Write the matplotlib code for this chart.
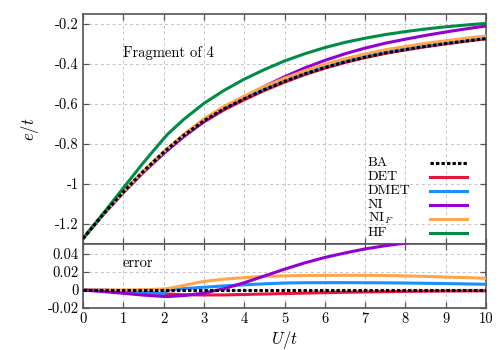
import matplotlib.pyplot as plt
import numpy as np
from matplotlib.ticker import FuncFormatter

plt.rcParams["font.family"] = "cmr10"
plt.rcParams["mathtext.fontset"] = "cm"
plt.rcParams["axes.unicode_minus"] = False
plt.rcParams["font.size"] = 10.5

# U/t grid (2.1 added for the DMET jump)
u = [0, 0.5, 1, 1.5, 2, 2.1, 2.5, 3, 3.5, 4, 4.5, 5, 5.5, 6, 6.5, 7, 7.5, 8, 8.5, 9, 9.5, 10]

# energies per site
ba = [-1.273, -1.152, -1.040, -0.936, -0.841, -0.824, -0.757, -0.684, -0.624, -0.574, -0.528,
      -0.487, -0.450, -0.418, -0.390, -0.366, -0.345, -0.328, -0.312, -0.298, -0.285, -0.273]
hf = [-1.273, -1.148, -1.020, -0.893, -0.774, -0.751, -0.677, -0.597, -0.532, -0.476, -0.428,
      -0.385, -0.349, -0.318, -0.292, -0.271, -0.253, -0.238, -0.225, -0.214, -0.205, -0.197]

# errors relative to BA
err_det = [0, -0.0003, -0.001, -0.0025, -0.0042, -0.0045, -0.0053, -0.0056, -0.0055, -0.005, -0.0045,
           -0.004, -0.0035, -0.003, -0.0026, -0.0022, -0.0019, -0.0016, -0.0014, -0.0012, -0.0011, -0.001]
err_dmet = [0, -0.0002, -0.0008, -0.002, -0.0042, 0.0, 0.0015, 0.003, 0.0045, 0.0057, 0.0068,
            0.0077, 0.008, 0.0081, 0.0081, 0.008, 0.0079, 0.0077, 0.0074, 0.0071, 0.0067, 0.0063]
err_ni = [0, -0.0018, -0.0037, -0.0057, -0.0072, -0.0073, -0.0062, -0.0035, 0.0015, 0.008, 0.0155,
          0.023, 0.030, 0.036, 0.041, 0.0455, 0.049, 0.052, 0.055, 0.058, 0.0605, 0.063]
err_nif = [0, 0, 0, 0.0003, 0.001, 0.0015, 0.005, 0.0095, 0.012, 0.0137, 0.015,
           0.0156, 0.016, 0.0162, 0.0163, 0.0162, 0.016, 0.0156, 0.015, 0.0143, 0.0137, 0.013]

labels = ["BA", "DET", "DMET", "NI", r"NI$_F$", "HF"]
colors = {
    "BA": "black",
    "DET": "#e4153e",
    "DMET": "#1a90ff",
    "NI": "#9400d3",
    r"NI$_F$": "#ffa64d",
    "HF": "#008c46",
}
errors = {"DET": err_det, "DMET": err_dmet, "NI": err_ni, r"NI$_F$": err_nif}

LW = 2.2
DOT = (0, (1.1, 0.7))
AXCOL = "#555555"
FS = 10.5

fig = plt.figure(figsize=(5, 3.5), dpi=100)
ax_top = fig.add_axes([0.166, 0.303, 0.806, 0.657])
ax_bot = fig.add_axes([0.166, 0.12, 0.806, 0.183], sharex=ax_top)

ba_arr = np.array(ba)

# upper panel: energies
for name, err in errors.items():
    ax_top.plot(u, ba_arr + np.array(err), color=colors[name], lw=LW, zorder=3)
ax_top.plot(u, hf, color=colors["HF"], lw=LW, zorder=3)
ax_top.plot(u, ba, color="black", lw=LW, ls=DOT, dash_capstyle="butt", zorder=5)

# lower panel: errors
ax_bot.plot(u, np.zeros(len(u)), color="black", lw=LW, ls=DOT, dash_capstyle="butt", zorder=5)
for name in ["DET", "DMET", r"NI$_F$", "NI"]:
    ax_bot.plot(u, errors[name], color=colors[name], lw=LW, zorder=3)

fmt = FuncFormatter(lambda v, _: f"{v:g}")

for ax in (ax_top, ax_bot):
    ax.set_xlim(0, 10)
    ax.set_xticks(range(0, 11))
    ax.tick_params(direction="in", length=4, width=0.9, color=AXCOL,
                   top=True, right=True, labelsize=FS, pad=3)
    for sp in ax.spines.values():
        sp.set_color(AXCOL)
        sp.set_linewidth(1.2)
    ax.grid(True, color="#c4c4c4", ls=(0, (3, 3)), lw=0.7)
    ax.set_axisbelow(True)
    ax.yaxis.set_major_formatter(fmt)
    ax.xaxis.set_major_formatter(fmt)

ax_top.set_ylim(-1.3, -0.15)
ax_top.set_yticks([-1.2, -1, -0.8, -0.6, -0.4, -0.2])
ax_top.tick_params(labelbottom=False)
ax_top.set_ylabel("$e/t$", fontsize=12)
ax_top.yaxis.set_label_coords(-0.105, 0.5)
ax_top.text(0.099, 0.83, "Fragment of 4", transform=ax_top.transAxes,
            ha="left", va="center", fontsize=FS)

ax_bot.set_ylim(-0.02, 0.051)
ax_bot.set_yticks([-0.02, 0, 0.02, 0.04])
ax_bot.set_xlabel("$U/t$", fontsize=12, labelpad=2)
ax_bot.text(0.099, 0.70, "error", transform=ax_bot.transAxes,
            ha="left", va="center", fontsize=FS)

# gnuplot-style key: labels left, samples right
y0, dy = 0.352, 0.0605
for i, name in enumerate(labels):
    y = y0 - i * dy
    ax_top.text(0.707, y, name, transform=ax_top.transAxes, ha="left", va="center", fontsize=10)
    if name == "BA":
        ax_top.plot([0.861, 0.953], [y, y], transform=ax_top.transAxes, color="black",
                    lw=LW, ls=DOT, dash_capstyle="butt", zorder=6)
    else:
        ax_top.plot([0.861, 0.953], [y, y], transform=ax_top.transAxes,
                    color=colors[name], lw=LW, zorder=6)

fig.savefig("out.png", dpi=100)
